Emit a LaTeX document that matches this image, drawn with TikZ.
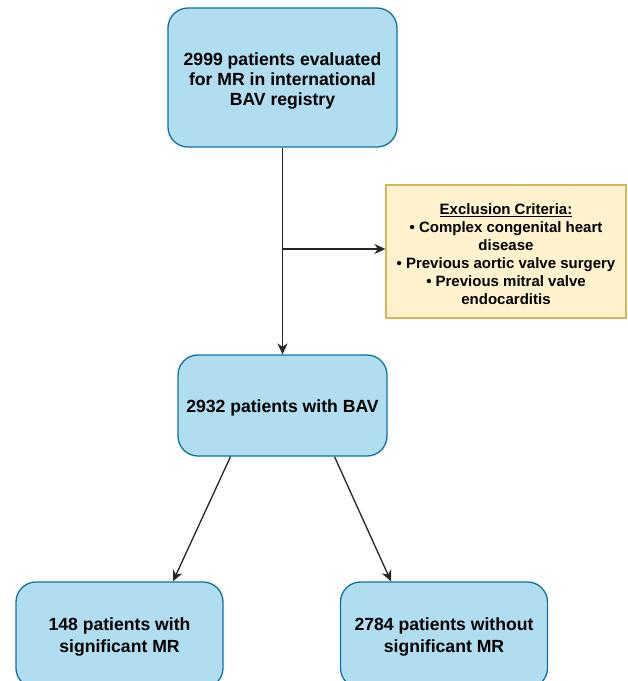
\documentclass[tikz,border=0pt]{standalone}
\usepackage{fontspec}
\setmainfont{Liberation Sans}
\usetikzlibrary{arrows.meta,calc}
\definecolor{bluefill}{HTML}{B1DDF0}
\definecolor{bluedraw}{HTML}{10739E}
\definecolor{yelfill}{HTML}{FFF2CC}
\definecolor{yeldraw}{HTML}{D6B656}
\tikzset{
  bluebox/.style={draw=bluedraw, fill=bluefill, line width=1.3pt, rounded corners=20pt, inner sep=0pt},
  exclbox/.style={draw=yeldraw, fill=yelfill, line width=1.3pt, inner sep=0pt},
  bluetext/.style={align=center, font=\fontsize{17.6}{20}\selectfont\bfseries, inner sep=0pt},
  bottext/.style={align=center, font=\fontsize{17.6}{22}\selectfont\bfseries, inner sep=0pt},
  excltext/.style={align=center, font=\fontsize{15}{17.9}\selectfont\bfseries, inner sep=0pt},
  arr/.style={draw=black!85, line width=1.3pt, -{Stealth[length=11pt,width=10pt]}},
}
\begin{document}
\begin{tikzpicture}[x=1pt,y=-1pt]
\useasboundingbox (0,0) rectangle (628,681);
\clip (0,0) rectangle (628,681);
\fill[white] (0,0) rectangle (628,681);
\node[bluebox, minimum width=229pt, minimum height=139pt] (top) at (282.5,77.5) {};
\node[bluetext] (toptxt) at ($(top.center)+(0,3)$)
  {2999 patients evaluated\\for MR in international\\BAV registry};
\node[exclbox, minimum width=240pt, minimum height=133pt] (excl) at (506,251.5) {};
\node[excltext] (excltxt) at ($(excl.center)+(0,2.5)$)
  {\underline{Exclusion Criteria:}\\\textbullet\ Complex congenital heart\\disease\\\textbullet\ Previous aortic valve surgery\\\textbullet\ Previous mitral valve\\endocarditis};
\node[bluebox, minimum width=209pt, minimum height=101pt] (mid) at (282.5,405.5) {};
\node[bluetext] (midtxt) at ($(mid.center)+(0,2.5)$) {2932 patients with BAV};
\node[bluebox, minimum width=207pt, minimum height=106pt] (bl) at (119.5,635) {};
\node[bottext] (bltxt) at ($(bl.center)+(0,2)$) {148 patients with\\significant MR};
\node[bluebox, minimum width=207pt, minimum height=106pt] (br) at (444,635) {};
\node[bottext] (brtxt) at ($(br.center)+(0,2)$) {2784 patients without\\significant MR};
\draw[arr] (top.south) -- (mid.north);
\coordinate (branch) at (top.south |- 0,249);
\draw[arr] (branch) -- (excl.west |- branch);
\coordinate (m1) at ($(mid.south)+(-52,0)$);
\coordinate (m2) at ($(mid.south)+(52,0)$);
\draw[arr] (m1) -- ($(bl.north)+(53.5,0)$);
\draw[arr] (m2) -- ($(br.north)+(-53,0)$);
\end{tikzpicture}
\end{document}
